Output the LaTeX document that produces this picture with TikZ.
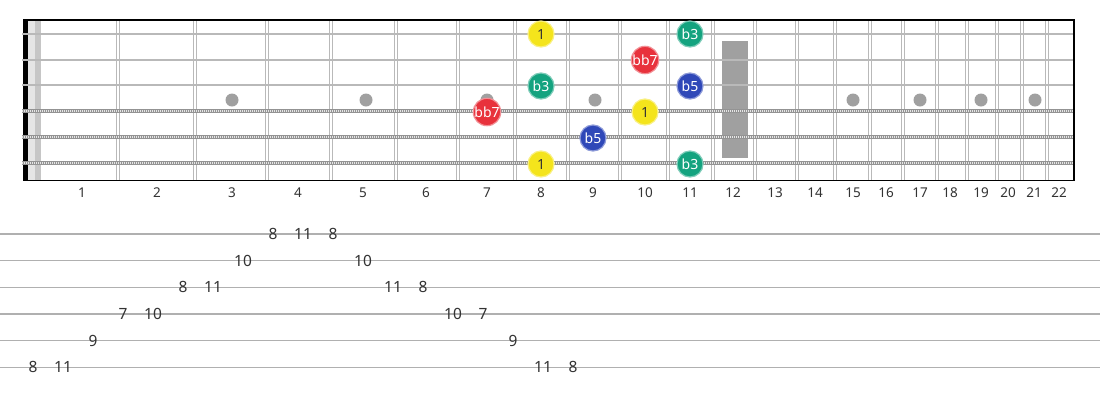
\documentclass[tikz,border=0pt]{standalone}
\usepackage{fontspec}
\setmainfont{Noto Sans}
\definecolor{ny}{HTML}{F4E41C}
\definecolor{ng}{HTML}{14A37F}
\definecolor{nr}{HTML}{E8323C}
\definecolor{nb}{HTML}{2F48B8}
\definecolor{txt}{HTML}{333333}
\definecolor{inl}{HTML}{A0A0A0}
\tikzset{
  fretline/.style={draw=gray!55, line width=1pt},
  plainstr/.style={draw=gray!55, line width=2.6pt},
  woundbase/.style={draw=gray!85, line width=4.4pt},
  woundtex/.style={draw=gray!20, line width=2.2pt, dash pattern=on 1pt off 1pt},
  inlay/.style={fill=inl},
  note/.style={circle, minimum size=26pt, inner sep=0pt, line width=1.2pt, font=\fontsize{14}{14}\selectfont},
  yn/.style={note, fill=ny, draw=ny!55!white, text=txt},
  gn/.style={note, fill=ng, draw=ng!55!white, text=white},
  rn/.style={note, fill=nr, draw=nr!55!white, text=white},
  bn/.style={note, fill=nb, draw=nb!55!white, text=white},
  fretnum/.style={text=txt, font=\fontsize{13.5}{13.5}\selectfont, inner sep=0pt},
  tabline/.style={draw=gray!62, line width=1.5pt},
  tabnum/.style={text=txt, inner sep=0pt, font=\fontsize{15.5}{15.5}\selectfont}
}
\begin{document}
\begin{tikzpicture}[x=1pt,y=-1pt]
\useasboundingbox[fill=white] (0,0) rectangle (1100,400);
% nut band
\fill[gray!20] (28,20) rectangle (35,180);
\fill[gray!45] (35,20) rectangle (41,180);
% frets
\foreach \f in {118,195,267,331,396,458,515,568,620,668,713,755,797,835,870,903,937,967,997,1022,1047}{
  \draw[fretline] (\f-1.4,20) -- (\f-1.4,180);
  \draw[fretline] (\f+1.4,20) -- (\f+1.4,180);
}
% inlays
\fill[inlay] (722,41) rectangle (748,158);
\foreach \x in {232,366,487,595,853,920,981,1035}{
  \fill[inlay] (\x,100) circle (6.5);
}
% nut
\fill[black] (23,19.5) rectangle (27.5,181.2);
% strings
\foreach \y in {34,60,85}{
  \draw[plainstr] (22,\y) -- (1074,\y);
}
\foreach \y in {111,137,163}{
  \draw[woundbase] (22,\y) -- (1074,\y);
  \draw[woundtex] (22,\y) -- (1074,\y);
}
% border
\draw[black, line width=1.6pt] (23,20) -- (1075,20);
\draw[black, line width=1.6pt] (23,180.5) -- (1075,180.5);
\draw[black, line width=2pt] (1074,19.2) -- (1074,181.3);
% fret numbers
\foreach \x/\n in {82/1,157/2,232/3,298/4,363/5,426/6,487/7,541/8,593/9,645/10,690/11,733/12,775/13,815/14,853/15,886/16,920/17,950/18,981/19,1008/20,1034/21,1059/22}{
  \node[fretnum] (fn\n) at (\x,193) {\n};
}
% notes
\node[yn] (a1) at (541,34) {1};
\node[gn] (a2) at (690,34) {b3};
\node[rn] (b1) at (645,60) {bb7};
\node[gn] (c1) at (541,86) {b3};
\node[bn] (c2) at (690,86) {b5};
\node[rn] (d1) at (487,112) {bb7};
\node[yn] (d2) at (645,112) {1};
\node[bn] (e1) at (593,138) {b5};
\node[yn] (f1) at (541,164) {1};
\node[gn] (f2) at (690,164) {b3};
% tab
\foreach \y in {234,260.7,287.3,314,340.7,367.3}{
  \draw[tabline] (0,\y) -- (1100,\y);
}
\node[tabnum] (t1) at (33,367.3) {8};
\node[tabnum] (t2) at (63,367.3) {11};
\node[tabnum] (t3) at (93,340.7) {9};
\node[tabnum] (t4) at (123,314) {7};
\node[tabnum] (t5) at (153,314) {10};
\node[tabnum] (t6) at (183,287.3) {8};
\node[tabnum] (t7) at (213,287.3) {11};
\node[tabnum] (t8) at (243,260.7) {10};
\node[tabnum] (t9) at (273,234) {8};
\node[tabnum] (t10) at (303,234) {11};
\node[tabnum] (t11) at (333,234) {8};
\node[tabnum] (t12) at (363,260.7) {10};
\node[tabnum] (t13) at (393,287.3) {11};
\node[tabnum] (t14) at (423,287.3) {8};
\node[tabnum] (t15) at (453,314) {10};
\node[tabnum] (t16) at (483,314) {7};
\node[tabnum] (t17) at (513,340.7) {9};
\node[tabnum] (t18) at (543,367.3) {11};
\node[tabnum] (t19) at (573,367.3) {8};
\end{tikzpicture}
\end{document}
